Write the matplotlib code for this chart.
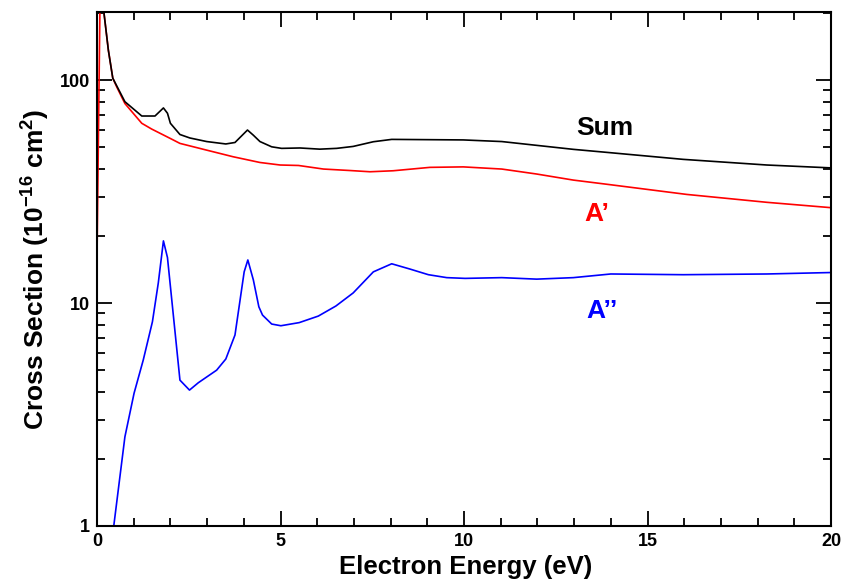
import matplotlib
matplotlib.use("Agg")
import matplotlib.pyplot as plt
from matplotlib.ticker import MultipleLocator, LogLocator, NullFormatter, FixedLocator, FixedFormatter

plt.rcParams['font.family'] = ['Liberation Sans', 'DejaVu Sans']
plt.rcParams['font.weight'] = 'bold'
plt.rcParams['mathtext.fontset'] = 'custom'
plt.rcParams['mathtext.rm'] = 'Liberation Sans:bold'
plt.rcParams['mathtext.bf'] = 'Liberation Sans:bold'
plt.rcParams['mathtext.default'] = 'bf'

# Sum
sum_e = [0.19, 0.31, 0.43, 0.76, 1.22, 1.58, 1.81, 1.92, 2.0, 2.26, 2.53, 2.99, 3.51, 3.76,
         4.10, 4.26, 4.44, 4.76, 5.03, 5.53, 6.07, 6.53, 6.98, 7.53, 8.03, 9.98, 11.03,
         12.98, 13.89, 15.97, 18.25, 19.97]
sum_v = [200, 136, 102, 80, 69, 69, 75, 71, 64, 57, 55, 53, 51.7, 52.5,
         59.7, 56.6, 53, 50.2, 49.4, 49.6, 49, 49.4, 50.4, 52.9, 54.2, 53.9, 53,
         48.9, 47.4, 44.1, 41.6, 40.4]

# A'
a1_e = [0.0, 0.1, 0.19, 0.31, 0.43, 0.54, 0.76, 1.22, 1.49, 1.99, 2.26, 2.99, 3.71, 4.44,
        4.99, 5.49, 6.17, 6.89, 7.44, 8.07, 9.07, 9.98, 11.03, 11.98, 12.98, 13.89,
        16.07, 18.25, 19.97]
a1_v = [16, 400, 200, 136, 102, 93, 78.5, 64, 60.3, 54.8, 52, 48.5, 45.3, 42.7,
        41.6, 41.4, 39.9, 39.3, 38.8, 39.2, 40.6, 40.8, 39.9, 37.9, 35.6, 34.1,
        30.7, 28.3, 26.8]

# A''
a2_e = [0.0, 0.46, 0.76, 1.01, 1.26, 1.51, 1.67, 1.81, 1.92, 2.26, 2.52, 2.76, 3.26, 3.51,
        3.76, 4.01, 4.11, 4.26, 4.41, 4.51, 4.76, 5.01, 5.51, 6.03, 6.51, 6.98, 7.53,
        8.03, 8.53, 9.03, 9.53, 10.03, 11.03, 11.98, 12.98, 14.0, 15.97, 18.25, 19.97]
a2_v = [0.1, 1.01, 2.51, 3.94, 5.55, 8.24, 12.3, 19.0, 16.0, 4.51, 4.07, 4.39, 5.0, 5.61,
        7.19, 13.8, 15.6, 12.7, 9.62, 8.83, 8.05, 7.91, 8.17, 8.74, 9.7, 11.1, 13.8,
        15.0, 14.2, 13.4, 13.0, 12.9, 13.0, 12.8, 13.0, 13.5, 13.4, 13.5, 13.7]

W, H = 848, 586
fig = plt.figure(figsize=(W/100, H/100), dpi=100)
ax = fig.add_axes([97/W, 1-526/H, (831-97)/W, (526-12)/H])

ax.plot(a1_e, a1_v, color='#ff0000', lw=1.2)
ax.plot(a2_e, a2_v, color='#0000ff', lw=1.2)
ax.plot(sum_e, sum_v, color='black', lw=1.2)

ax.set_yscale('log')
ax.set_xlim(0, 20)
ax.set_ylim(1, 202)

ax.xaxis.set_major_locator(MultipleLocator(5))
ax.xaxis.set_minor_locator(MultipleLocator(1))
ax.yaxis.set_major_locator(FixedLocator([1, 10, 100]))
ax.yaxis.set_major_formatter(FixedFormatter(['1', '10', '100']))
ax.yaxis.set_minor_locator(LogLocator(base=10, subs=range(2, 10)))
ax.yaxis.set_minor_formatter(NullFormatter())

ax.tick_params(which='both', direction='in', top=True, right=True, width=1.3,
               labelsize=13)
ax.tick_params(axis='x', which='major', pad=5)
ax.tick_params(axis='y', which='major', pad=5)
ax.tick_params(which='major', length=11)
ax.tick_params(which='minor', length=6)
for s in ax.spines.values():
    s.set_linewidth(1.5)
for lab in ax.get_xticklabels() + ax.get_yticklabels():
    lab.set_fontweight('bold')

def px(x, y):
    return x / W, 1 - y / H

fig.text(*px(466, 574), 'Electron Energy (eV)', fontsize=18.5, fontweight='bold',
         ha='center', va='baseline')
fig.text(*px(36, 269), r'Cross Section (10$^{-16}$ cm$^{2}$)', fontsize=19, fontweight='bold',
         rotation=90, ha='center', va='center')

fig.text(*px(605, 128), 'Sum', fontsize=19, fontweight='bold', color='black',
         ha='center', va='center')
fig.text(*px(597, 214), 'A\u2019', fontsize=19, fontweight='bold', color='#ff0000',
         ha='center', va='center')
fig.text(*px(602, 311), 'A\u2019\u2019', fontsize=19, fontweight='bold', color='#0000ff',
         ha='center', va='center')

fig.savefig('out.png', dpi=100)
